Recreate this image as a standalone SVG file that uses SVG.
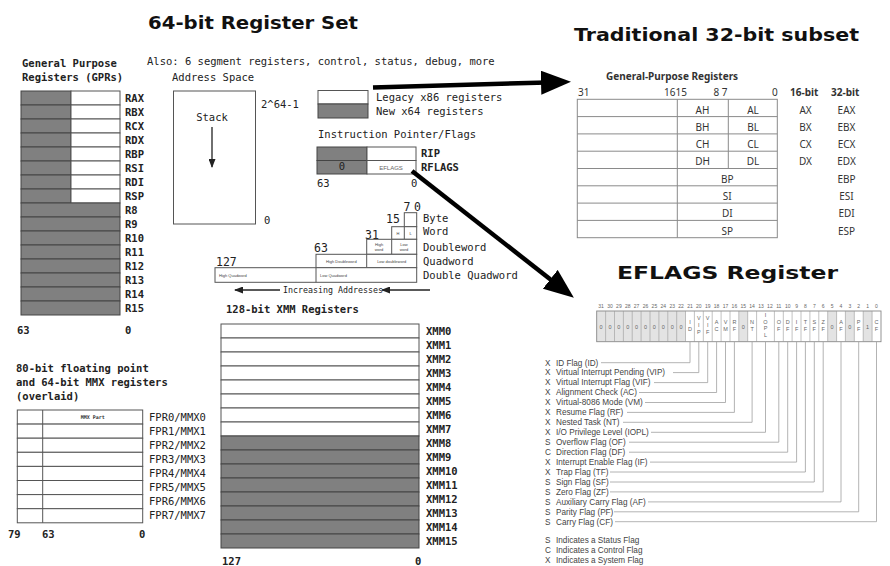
<svg xmlns="http://www.w3.org/2000/svg" width="890" height="566" viewBox="0 0 890 566">
<defs>
<style>
.m{font-family:"DejaVu Sans Mono","Liberation Mono",monospace;font-size:10.5px;fill:#222}
.b{font-weight:bold}
.s8{font-size:8.3px}
.s11{font-size:11.5px}
.tiny{font-family:"Liberation Sans",Arial,sans-serif;font-size:4px;fill:#444}
.g{fill:#808080;stroke:#444;stroke-width:1}
.w{fill:#fff;stroke:#555;stroke-width:1}
.o{fill:none;stroke:#555;stroke-width:1}
.t{font-family:"Noto Sans","Open Sans",sans-serif;font-size:10px;fill:#333}
.tl{stroke:#8a8a8a;stroke-width:1;fill:none}
.ef{font-family:"Liberation Sans",Arial,sans-serif;font-size:8.2px;fill:#444}
.bn{font-family:"Liberation Sans",Arial,sans-serif;font-size:5px;fill:#666;text-anchor:middle}
.cl{font-family:"Liberation Sans",Arial,sans-serif;font-size:5.5px;fill:#666;text-anchor:middle}
.ld{stroke:#a0a0a0;stroke-width:0.8;fill:none}
.title{font-family:"DejaVu Sans","Liberation Sans",sans-serif;font-weight:bold;font-size:18px;fill:#111}
.thick{stroke:#000;stroke-width:4.5;fill:none}
.thin{stroke:#222;stroke-width:1.3;fill:none}
</style>
<marker id="big" markerUnits="userSpaceOnUse" markerWidth="30" markerHeight="24" refX="6" refY="12" orient="auto">
<path d="M0,0 L30,12 L0,24 z" fill="#000"/>
</marker>
<marker id="sm" markerUnits="userSpaceOnUse" markerWidth="9" markerHeight="7" refX="8" refY="3.5" orient="auto">
<path d="M0,0 L9,3.5 L0,7 z" fill="#222"/>
</marker>
</defs>
<rect width="890" height="566" fill="#fff"/>

<text class="title" x="148" y="29" textLength="210" lengthAdjust="spacingAndGlyphs">64-bit Register Set</text>
<text class="title" x="574" y="41" textLength="285" lengthAdjust="spacingAndGlyphs">Traditional 32-bit subset</text>
<text class="title" x="617" y="279" textLength="221" lengthAdjust="spacingAndGlyphs">EFLAGS Register</text>

<text class="m" x="147" y="64.5">Also: 6 segment registers, control, status, debug, more</text>

<g id="gprs">
<text class="m b" x="22" y="67">General Purpose</text>
<text class="m b" x="22" y="80.5">Registers (GPRs)</text>
<rect class="g" x="21" y="91" width="50" height="14"/><rect class="w" x="71" y="91" width="49" height="14"/>
<rect class="g" x="21" y="105" width="50" height="14"/><rect class="w" x="71" y="105" width="49" height="14"/>
<rect class="g" x="21" y="119" width="50" height="14"/><rect class="w" x="71" y="119" width="49" height="14"/>
<rect class="g" x="21" y="133" width="50" height="14"/><rect class="w" x="71" y="133" width="49" height="14"/>
<rect class="g" x="21" y="147" width="50" height="14"/><rect class="w" x="71" y="147" width="49" height="14"/>
<rect class="g" x="21" y="161" width="50" height="14"/><rect class="w" x="71" y="161" width="49" height="14"/>
<rect class="g" x="21" y="175" width="50" height="14"/><rect class="w" x="71" y="175" width="49" height="14"/>
<rect class="g" x="21" y="189" width="50" height="14"/><rect class="w" x="71" y="189" width="49" height="14"/>
<rect class="g" x="21" y="203" width="99" height="14"/>
<rect class="g" x="21" y="217" width="99" height="14"/>
<rect class="g" x="21" y="231" width="99" height="14"/>
<rect class="g" x="21" y="245" width="99" height="14"/>
<rect class="g" x="21" y="259" width="99" height="14"/>
<rect class="g" x="21" y="273" width="99" height="14"/>
<rect class="g" x="21" y="287" width="99" height="14"/>
<rect class="g" x="21" y="301" width="99" height="14"/>
<g class="m b">
<text x="125" y="101.8">RAX</text><text x="125" y="115.8">RBX</text><text x="125" y="129.8">RCX</text><text x="125" y="143.8">RDX</text>
<text x="125" y="157.8">RBP</text><text x="125" y="171.8">RSI</text><text x="125" y="185.8">RDI</text><text x="125" y="199.8">RSP</text>
<text x="125" y="213.8">R8</text><text x="125" y="227.8">R9</text><text x="125" y="241.8">R10</text><text x="125" y="255.8">R11</text>
<text x="125" y="269.8">R12</text><text x="125" y="283.8">R13</text><text x="125" y="297.8">R14</text><text x="125" y="311.8">R15</text>
<text x="17" y="334">63</text><text x="125" y="334">0</text>
</g>
</g>

<g id="address-space">
<text class="m" x="172" y="81">Address Space</text>
<rect class="w" x="173.5" y="91" width="82" height="133" stroke-width="1.3"/>
<text class="m" x="212" y="120.5" text-anchor="middle">Stack</text>
<text class="m" x="261" y="107.7">2^64-1</text>
<text class="m" x="264" y="223.5">0</text>
</g>

<g id="legend">
<rect class="w" x="318" y="90.5" width="50" height="13.5"/>
<rect class="g" x="318" y="104" width="50" height="14"/>
<text class="m" x="376" y="101">Legacy x86 registers</text>
<text class="m" x="376" y="114.7">New x64 registers</text>
</g>

<g id="rip-rflags">
<text class="m" x="318" y="138.4">Instruction Pointer/Flags</text>
<rect class="g" x="317" y="147" width="50" height="13.5"/>
<rect class="g" x="317" y="160.5" width="50" height="13.5"/>
<rect class="w" x="367" y="147" width="49" height="13.5"/>
<rect class="w" x="367" y="160.5" width="49" height="13.5"/>
<text class="m" x="342" y="170" font-size="6px" text-anchor="middle" fill="#ddd">0</text>
<text x="391" y="169.6" font-family="Liberation Sans,Arial,sans-serif" font-size="6px" fill="#666" text-anchor="middle">EFLAGS</text>
<text class="m b" x="421" y="157">RIP</text>
<text class="m b" x="421" y="171.4">RFLAGS</text>
<text class="m" x="317" y="187">63</text>
<text class="m" x="411" y="187">0</text>
</g>

<g id="data-sizes">
<text class="m s11" x="403.5" y="211">7</text><text class="m s11" x="414" y="211">0</text>
<rect class="w" x="404.3" y="212.7" width="12.4" height="14"/>
<text class="m s11" x="386" y="223">15</text>
<rect class="w" x="391.7" y="226.7" width="25" height="12.6"/>
<line class="o" x1="404.3" y1="226.7" x2="404.3" y2="239.3"/>
<text class="tiny" x="398" y="234.5" text-anchor="middle">H</text><text class="tiny" x="410.5" y="234.5" text-anchor="middle">L</text>
<text class="m s11" x="365" y="239">31</text>
<rect class="w" x="366.7" y="239.3" width="50" height="15"/>
<line class="o" x1="391.7" y1="239.3" x2="391.7" y2="254.3"/>
<text class="tiny" x="379" y="245.5" text-anchor="middle">High</text><text class="tiny" x="379" y="251" text-anchor="middle">word</text>
<text class="tiny" x="404" y="245.5" text-anchor="middle">Low</text><text class="tiny" x="404" y="251" text-anchor="middle">word</text>
<text class="m s11" x="314" y="251.5">63</text>
<rect class="w" x="316" y="254.3" width="100.7" height="13.4"/>
<line class="o" x1="366.7" y1="254.3" x2="366.7" y2="267.7"/>
<text class="tiny" x="341.3" y="262.5" text-anchor="middle">High Doubleword</text>
<text class="tiny" x="391.7" y="262.5" text-anchor="middle">Low doubleword</text>
<text class="m s11" x="216" y="265.5">127</text>
<rect class="w" x="215" y="267.7" width="201.7" height="14.6"/>
<line class="o" x1="316" y1="267.7" x2="316" y2="282.3"/>
<text class="tiny" x="219" y="276.5">High Quadword</text>
<text class="tiny" x="320" y="276.5">Low Quadword</text>
<text class="m" x="423" y="222">Byte</text>
<text class="m" x="423" y="235">Word</text>
<text class="m" x="423" y="250.5">Doubleword</text>
<text class="m" x="423" y="264.5">Quadword</text>
<text class="m" x="423" y="279">Double Quadword</text>
<text class="m s8" x="283" y="293">Increasing Addresses</text>
</g>

<g id="xmm">
<text class="m b" x="226" y="312.5">128-bit XMM Registers</text>
<rect class="w" x="221" y="324" width="198" height="14"/>
<rect class="w" x="221" y="338" width="198" height="14"/>
<rect class="w" x="221" y="352" width="198" height="14"/>
<rect class="w" x="221" y="366" width="198" height="14"/>
<rect class="w" x="221" y="380" width="198" height="14"/>
<rect class="w" x="221" y="394" width="198" height="14"/>
<rect class="w" x="221" y="408" width="198" height="14"/>
<rect class="w" x="221" y="422" width="198" height="14"/>
<rect class="g" x="221" y="436" width="198" height="14"/>
<rect class="g" x="221" y="450" width="198" height="14"/>
<rect class="g" x="221" y="464" width="198" height="14"/>
<rect class="g" x="221" y="478" width="198" height="14"/>
<rect class="g" x="221" y="492" width="198" height="14"/>
<rect class="g" x="221" y="506" width="198" height="14"/>
<rect class="g" x="221" y="520" width="198" height="14"/>
<rect class="g" x="221" y="534" width="198" height="14"/>
<g class="m b">
<text x="426" y="334.8">XMM0</text><text x="426" y="348.8">XMM1</text><text x="426" y="362.8">XMM2</text><text x="426" y="376.8">XMM3</text>
<text x="426" y="390.8">XMM4</text><text x="426" y="404.8">XMM5</text><text x="426" y="418.8">XMM6</text><text x="426" y="432.8">XMM7</text>
<text x="426" y="446.8">XMM8</text><text x="426" y="460.8">XMM9</text><text x="426" y="474.8">XMM10</text><text x="426" y="488.8">XMM11</text>
<text x="426" y="502.8">XMM12</text><text x="426" y="516.8">XMM13</text><text x="426" y="530.8">XMM14</text><text x="426" y="544.8">XMM15</text>
<text x="222" y="565">127</text><text x="415" y="565">0</text>
</g>
</g>

<g id="fpr-mmx">
<text class="m b" x="16" y="372">80-bit floating point</text>
<text class="m b" x="16" y="386">and 64-bit MMX registers</text>
<text class="m b" x="16" y="400">(overlaid)</text>
<rect class="w" x="17.3" y="410" width="125.4" height="14.1"/>
<rect class="w" x="17.3" y="424.1" width="125.4" height="14.1"/>
<rect class="w" x="17.3" y="438.2" width="125.4" height="14.1"/>
<rect class="w" x="17.3" y="452.3" width="125.4" height="14.1"/>
<rect class="w" x="17.3" y="466.4" width="125.4" height="14.1"/>
<rect class="w" x="17.3" y="480.5" width="125.4" height="14.1"/>
<rect class="w" x="17.3" y="494.6" width="125.4" height="14.1"/>
<rect class="w" x="17.3" y="508.7" width="125.4" height="14.1"/>
<line class="o" x1="42.7" y1="410" x2="42.7" y2="522.8"/>
<text x="92.7" y="419" font-family="DejaVu Sans Mono,monospace" font-size="5px" font-weight="bold" fill="#333" text-anchor="middle">MMX Part</text>
<g class="m">
<text x="149" y="420.7">FPR0/MMX0</text><text x="149" y="434.8">FPR1/MMX1</text><text x="149" y="448.9">FPR2/MMX2</text><text x="149" y="463">FPR3/MMX3</text>
<text x="149" y="477.1">FPR4/MMX4</text><text x="149" y="491.2">FPR5/MMX5</text><text x="149" y="505.3">FPR6/MMX6</text><text x="149" y="519.4">FPR7/MMX7</text>
</g>
<g class="m b"><text x="8" y="537.5">79</text><text x="42" y="537.5">63</text><text x="139" y="537.5">0</text></g>
</g>

<g id="gp32">
<text class="t" x="606" y="79.5" font-weight="bold" font-size="9.6px">General-Purpose Registers</text>
<text class="t" x="578" y="95.8">31</text>
<text class="t" x="664" y="95.8">1615</text>
<text class="t" x="713.5" y="95.8">8 7</text>
<text class="t" x="772" y="95.8">0</text>
<text class="t" x="790" y="95.8" font-weight="bold">16-bit</text>
<text class="t" x="831" y="95.8" font-weight="bold">32-bit</text>
<rect class="tl" x="577.3" y="99.3" width="200" height="138.4"/>
<line class="tl" x1="577.3" y1="116.6" x2="777.3" y2="116.6"/>
<line class="tl" x1="577.3" y1="133.9" x2="777.3" y2="133.9"/>
<line class="tl" x1="577.3" y1="151.2" x2="777.3" y2="151.2"/>
<line class="tl" x1="577.3" y1="168.5" x2="777.3" y2="168.5"/>
<line class="tl" x1="577.3" y1="185.8" x2="777.3" y2="185.8"/>
<line class="tl" x1="577.3" y1="203.1" x2="777.3" y2="203.1"/>
<line class="tl" x1="577.3" y1="220.4" x2="777.3" y2="220.4"/>
<line class="tl" x1="677.3" y1="99.3" x2="677.3" y2="237.7"/>
<line class="tl" x1="728.3" y1="99.3" x2="728.3" y2="168.5"/>
<g class="t" text-anchor="middle">
<text x="702.5" y="113.5">AH</text><text x="753" y="113.5">AL</text><text x="805.5" y="113.5">AX</text><text x="846.5" y="113.5">EAX</text>
<text x="702.5" y="130.8">BH</text><text x="753" y="130.8">BL</text><text x="805.5" y="130.8">BX</text><text x="846.5" y="130.8">EBX</text>
<text x="702.5" y="148.1">CH</text><text x="753" y="148.1">CL</text><text x="805.5" y="148.1">CX</text><text x="846.5" y="148.1">ECX</text>
<text x="702.5" y="165.4">DH</text><text x="753" y="165.4">DL</text><text x="805.5" y="165.4">DX</text><text x="846.5" y="165.4">EDX</text>
<text x="727.3" y="182.7">BP</text><text x="846.5" y="182.7">EBP</text>
<text x="727.3" y="200">SI</text><text x="846.5" y="200">ESI</text>
<text x="727.3" y="217.3">DI</text><text x="846.5" y="217.3">EDI</text>
<text x="727.3" y="234.6">SP</text><text x="846.5" y="234.6">ESP</text>
</g>
</g>

<g id="eflags">
<rect x="596.7" y="311" width="284.3" height="30.7" fill="#fff"/>
<g fill="#e3e3e3">
<rect x="596.7" y="311" width="88.8" height="30.7"/>
<rect x="738.8" y="311" width="8.9" height="30.7"/>
<rect x="827.7" y="311" width="8.9" height="30.7"/>
<rect x="845.4" y="311" width="8.9" height="30.7"/>
<rect x="863.2" y="311" width="8.9" height="30.7"/>
</g>
<rect x="596.7" y="311" width="284.3" height="30.7" fill="none" stroke="#888" stroke-width="0.9"/>
<path d="M605.6,311V341.7M614.5,311V341.7M623.4,311V341.7M632.2,311V341.7M641.1,311V341.7M650,311V341.7M658.9,311V341.7M667.8,311V341.7M676.7,311V341.7M685.5,311V341.7M694.4,311V341.7M703.3,311V341.7M712.2,311V341.7M721.1,311V341.7M730,311V341.7M738.8,311V341.7M747.7,311V341.7M756.6,311V341.7M774.4,311V341.7M783.3,311V341.7M792.1,311V341.7M801,311V341.7M809.9,311V341.7M818.8,311V341.7M827.7,311V341.7M836.6,311V341.7M845.4,311V341.7M854.3,311V341.7M863.2,311V341.7M872.1,311V341.7" stroke="#999" stroke-width="0.6" fill="none"/>
<g class="bn">
<text x="601.1" y="307.5">31</text><text x="610" y="307.5">30</text><text x="618.9" y="307.5">29</text><text x="627.8" y="307.5">28</text>
<text x="636.6" y="307.5">27</text><text x="645.5" y="307.5">26</text><text x="654.4" y="307.5">25</text><text x="663.3" y="307.5">24</text>
<text x="672.2" y="307.5">23</text><text x="681.1" y="307.5">22</text><text x="690" y="307.5">21</text><text x="698.8" y="307.5">20</text>
<text x="707.7" y="307.5">19</text><text x="716.6" y="307.5">18</text><text x="725.5" y="307.5">17</text><text x="734.4" y="307.5">16</text>
<text x="743.3" y="307.5">15</text><text x="752.1" y="307.5">14</text><text x="761" y="307.5">13</text><text x="769.9" y="307.5">12</text>
<text x="778.8" y="307.5">11</text><text x="787.7" y="307.5">10</text><text x="796.6" y="307.5">9</text><text x="805.4" y="307.5">8</text>
<text x="814.3" y="307.5">7</text><text x="823.2" y="307.5">6</text><text x="832.1" y="307.5">5</text><text x="841" y="307.5">4</text>
<text x="849.9" y="307.5">3</text><text x="858.7" y="307.5">2</text><text x="867.6" y="307.5">1</text><text x="876.5" y="307.5">0</text>
</g>
<g class="cl">
<text x="601.1" y="328.5">0</text><text x="610" y="328.5">0</text><text x="618.9" y="328.5">0</text><text x="627.8" y="328.5">0</text>
<text x="636.6" y="328.5">0</text><text x="645.5" y="328.5">0</text><text x="654.4" y="328.5">0</text><text x="663.3" y="328.5">0</text>
<text x="672.2" y="328.5">0</text><text x="681.1" y="328.5">0</text>
<text x="690" y="324"><tspan x="690">I</tspan><tspan x="690" dy="7">D</tspan></text>
<text x="698.8" y="320"><tspan x="698.8">V</tspan><tspan x="698.8" dy="7">I</tspan><tspan x="698.8" dy="7">P</tspan></text>
<text x="707.7" y="320"><tspan x="707.7">V</tspan><tspan x="707.7" dy="7">I</tspan><tspan x="707.7" dy="7">F</tspan></text>
<text x="716.6" y="324"><tspan x="716.6">A</tspan><tspan x="716.6" dy="7">C</tspan></text>
<text x="725.5" y="324"><tspan x="725.5">V</tspan><tspan x="725.5" dy="7">M</tspan></text>
<text x="734.4" y="324"><tspan x="734.4">R</tspan><tspan x="734.4" dy="7">F</tspan></text>
<text x="743.3" y="328.5">0</text>
<text x="752.1" y="324"><tspan x="752.1">N</tspan><tspan x="752.1" dy="7">T</tspan></text>
<text x="765.5" y="317"><tspan x="765.5">I</tspan><tspan x="765.5" dy="6.5">O</tspan><tspan x="765.5" dy="6.5">P</tspan><tspan x="765.5" dy="6.5">L</tspan></text>
<text x="778.8" y="324"><tspan x="778.8">O</tspan><tspan x="778.8" dy="7">F</tspan></text>
<text x="787.7" y="324"><tspan x="787.7">D</tspan><tspan x="787.7" dy="7">F</tspan></text>
<text x="796.6" y="324"><tspan x="796.6">I</tspan><tspan x="796.6" dy="7">F</tspan></text>
<text x="805.4" y="324"><tspan x="805.4">T</tspan><tspan x="805.4" dy="7">F</tspan></text>
<text x="814.3" y="324"><tspan x="814.3">S</tspan><tspan x="814.3" dy="7">F</tspan></text>
<text x="823.2" y="324"><tspan x="823.2">Z</tspan><tspan x="823.2" dy="7">F</tspan></text>
<text x="832.1" y="328.5">0</text>
<text x="841" y="324"><tspan x="841">A</tspan><tspan x="841" dy="7">F</tspan></text>
<text x="849.9" y="328.5">0</text>
<text x="858.7" y="324"><tspan x="858.7">P</tspan><tspan x="858.7" dy="7">F</tspan></text>
<text x="867.6" y="328.5">1</text>
<text x="876.5" y="324"><tspan x="876.5">C</tspan><tspan x="876.5" dy="7">F</tspan></text>
</g>
<path class="ld" d="M690,342V362.7H601 M698.8,342V372.6H673 M707.7,342V382.6H654 M716.6,342V392.5H639 M725.5,342V402.5H645 M734.4,342V412.4H627 M752.1,342V422.3H623 M765.5,342V432.3H651 M778.8,342V442.2H629 M787.7,342V452.2H629 M796.6,342V462.1H650 M805.4,342V472H610 M814.3,342V482H610 M823.2,342V491.9H610 M841,342V501.9H648 M858.7,342V511.8H614 M876.5,342V521.7H615"/>
<g class="ef">
<text x="545" y="365.5">X</text><text x="556" y="365.5">ID Flag (ID)</text>
<text x="545" y="375.4">X</text><text x="556" y="375.4">Virtual Interrupt Pending (VIP)</text>
<text x="545" y="385.4">X</text><text x="556" y="385.4">Virtual Interrupt Flag (VIF)</text>
<text x="545" y="395.3">X</text><text x="556" y="395.3">Alignment Check (AC)</text>
<text x="545" y="405.3">X</text><text x="556" y="405.3">Virtual-8086 Mode (VM)</text>
<text x="545" y="415.2">X</text><text x="556" y="415.2">Resume Flag (RF)</text>
<text x="545" y="425.1">X</text><text x="556" y="425.1">Nested Task (NT)</text>
<text x="545" y="435.1">X</text><text x="556" y="435.1">I/O Privilege Level (IOPL)</text>
<text x="545" y="445">S</text><text x="556" y="445">Overflow Flag (OF)</text>
<text x="545" y="455">C</text><text x="556" y="455">Direction Flag (DF)</text>
<text x="545" y="464.9">X</text><text x="556" y="464.9">Interrupt Enable Flag (IF)</text>
<text x="545" y="474.8">X</text><text x="556" y="474.8">Trap Flag (TF)</text>
<text x="545" y="484.8">S</text><text x="556" y="484.8">Sign Flag (SF)</text>
<text x="545" y="494.7">S</text><text x="556" y="494.7">Zero Flag (ZF)</text>
<text x="545" y="504.7">S</text><text x="556" y="504.7">Auxiliary Carry Flag (AF)</text>
<text x="545" y="514.6">S</text><text x="556" y="514.6">Parity Flag (PF)</text>
<text x="545" y="524.5">S</text><text x="556" y="524.5">Carry Flag (CF)</text>
<text x="545" y="543">S</text><text x="556" y="543">Indicates a Status Flag</text>
<text x="545" y="553">C</text><text x="556" y="553">Indicates a Control Flag</text>
<text x="545" y="563">X</text><text x="556" y="563">Indicates a System Flag</text>
</g>
</g>

<g id="connectors">
<line class="thick" x1="373" y1="87.5" x2="547" y2="82.5" marker-end="url(#big)"/>
<line class="thick" x1="412" y1="171" x2="555" y2="283" marker-end="url(#big)"/>
<line class="thin" x1="212" y1="127" x2="212" y2="167" marker-end="url(#sm)"/>
<line class="thin" x1="280" y1="290" x2="235" y2="290" marker-end="url(#sm)"/>
<line class="thin" x1="430" y1="290" x2="382" y2="290" marker-end="url(#sm)"/>
</g>
</svg>
